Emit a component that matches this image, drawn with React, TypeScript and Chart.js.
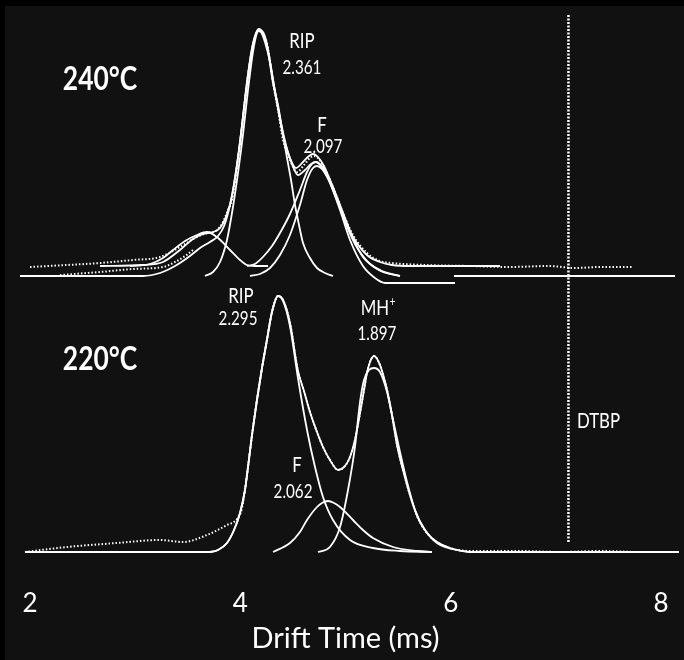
import React, { useEffect, useRef } from "react";
import { Chart, registerables } from "chart.js";

Chart.register(...registerables);

// x = drift time (ms); y = intensity (arbitrary units, bottom spectrum baseline = 0)
const TOP_OFFSET = 276; // vertical offset of the 240°C spectrum

// ---------- 240 °C spectrum ----------
const TOP_DATA_T = [2.000, 2.352, 2.666, 2.979, 3.236, 3.426, 3.588, 3.683, 3.778, 3.835, 3.883, 3.921, 3.968, 4.016, 4.063, 4.111, 4.158, 4.177, 4.206, 4.253, 4.311, 4.358, 4.406, 4.472, 4.539, 4.605, 4.662, 4.700, 4.738, 4.786, 4.881, 4.976, 5.071, 5.204, 5.328, 5.442, 5.756, 6.184, 6.555, 6.935, 7.182, 7.420, 7.724];
const TOP_DATA_Y = [9, 11, 13, 16, 19, 29, 39, 43, 46, 54, 66, 76, 109, 149, 193, 226, 244, 246, 243, 233, 193, 166, 136, 116, 104, 111, 118, 120, 118, 111, 89, 63, 41, 23, 15, 13, 11, 10, 9, 10, 8, 9, 9];

const TOP_DATA2_T = [2.285, 2.666, 2.979, 3.265, 3.379, 3.474, 3.550];
const TOP_DATA2_Y = [1, 4, 7, 9, 14, 20, 26];

const TOP_FIT_A_T = [2.666, 3.074, 3.265, 3.426, 3.550, 3.645, 3.740, 3.807, 3.873, 3.921, 3.968, 4.016, 4.063, 4.111, 4.149, 4.177, 4.215, 4.263, 4.311, 4.358, 4.406, 4.472, 4.529, 4.596, 4.653, 4.691, 4.738, 4.795, 4.881, 4.976, 5.071, 5.204, 5.328, 5.442, 5.613, 6.469];
const TOP_FIT_A_Y = [10, 11, 14, 26, 37, 42, 44, 48, 62, 80, 111, 151, 194, 228, 243, 247, 243, 226, 196, 168, 141, 118, 108, 114, 120, 122, 119, 110, 88, 61, 39, 21, 14, 11, 10, 10];

const TOP_FIT_B_T = [1.905, 3.074, 3.236, 3.379, 3.521, 3.616, 3.711, 3.788, 3.845, 3.902, 3.949, 3.997, 4.044, 4.092, 4.130, 4.168, 4.196, 4.234, 4.282, 4.330, 4.377, 4.434, 4.491, 4.548, 4.615, 4.672, 4.719, 4.767, 4.834, 4.910, 4.995, 5.090, 5.214, 5.357, 5.518];
const TOP_FIT_B_Y = [0, 0, 3, 10, 20, 28, 34, 40, 50, 71, 98, 134, 176, 214, 236, 245, 244, 234, 214, 184, 158, 131, 112, 101, 106, 112, 114, 110, 98, 78, 54, 32, 14, 4, 0];

const TOP_SMALL_T = [2.951, 3.141, 3.265, 3.360, 3.474, 3.588, 3.683, 3.788, 3.902, 3.997, 4.063, 4.139, 4.263];
const TOP_SMALL_Y = [10, 12, 18, 26, 35, 41, 44, 38, 26, 16, 11, 10, 10];

const TOP_RIP_T = [3.664, 3.740, 3.807, 3.873, 3.930, 3.978, 4.025, 4.073, 4.120, 4.158, 4.187, 4.244, 4.311, 4.358, 4.406, 4.444, 4.482, 4.520, 4.558, 4.596, 4.662, 4.729, 4.805, 4.881];
const TOP_RIP_Y = [0, 4, 14, 36, 69, 103, 141, 186, 224, 243, 246, 236, 193, 171, 141, 118, 96, 71, 51, 33, 18, 8, 3, 0];

const TOP_F1_T = [4.092, 4.187, 4.282, 4.377, 4.472, 4.567, 4.634, 4.691, 4.729, 4.776, 4.852, 4.948, 5.043, 5.166, 5.280, 5.376, 6.041];
const TOP_F1_Y = [0, 2, 8, 21, 41, 71, 96, 108, 110, 107, 93, 66, 36, 10, -2, -7, -7];

const TOP_F2_T = [4.063, 4.139, 4.215, 4.301, 4.377, 4.472, 4.567, 4.634, 4.681, 4.719, 4.767, 4.834, 4.919, 4.995, 5.062, 5.166, 5.328, 5.518];
const TOP_F2_Y = [10, 12, 19, 30, 43, 62, 86, 104, 112, 114, 111, 100, 79, 58, 40, 19, 6, 0];

const TOP_BASE_T = [6.032, 8.133];
const TOP_BASE_Y = [0, 0];

// ---------- 220 °C spectrum ----------
const BOT_DATA_T = [1.952, 2.352, 2.827, 3.236, 3.455, 3.683, 3.873, 3.968, 4.016, 4.073, 4.111, 4.158, 4.206, 4.253, 4.301, 4.358, 4.406, 4.472, 4.548, 4.605, 4.662, 4.729, 4.786, 4.852, 4.929, 4.995, 5.043, 5.090, 5.138, 5.176, 5.204, 5.233, 5.271, 5.328, 5.395, 5.442, 5.490, 5.547, 5.613, 5.689, 5.775, 5.870, 5.994, 6.184, 6.659, 7.039, 7.420, 7.800, 8.171];
const BOT_DATA_Y = [0, 5, 9, 12, 10, 17, 27, 33, 44, 85, 117, 152, 184, 212, 240, 256, 252, 229, 181, 161, 140, 120, 105, 92, 82, 86, 95, 112, 139, 162, 179, 190, 196, 187, 162, 137, 107, 82, 57, 34, 19, 10, 4, 1, 1, 0, 1, 0, 0];

const BOT_FIT_T = [1.952, 3.711, 3.788, 3.873, 3.940, 3.997, 4.044, 4.073, 4.111, 4.158, 4.206, 4.253, 4.301, 4.358, 4.406, 4.472, 4.548, 4.605, 4.662, 4.729, 4.786, 4.852, 4.929, 4.995, 5.043, 5.090, 5.138, 5.176, 5.204, 5.233, 5.271, 5.328, 5.395, 5.442, 5.490, 5.547, 5.613, 5.689, 5.775, 5.870, 5.994, 6.184, 8.171];
const BOT_FIT_Y = [0, 0, 2, 9, 22, 39, 62, 85, 117, 152, 184, 212, 240, 256, 252, 229, 181, 161, 140, 120, 105, 92, 82, 86, 95, 112, 139, 162, 179, 190, 196, 187, 162, 137, 107, 82, 57, 34, 19, 10, 4, 0, 0];

const BOT_RIP_T = [3.711, 3.788, 3.873, 3.940, 3.997, 4.044, 4.073, 4.111, 4.158, 4.206, 4.253, 4.301, 4.358, 4.406, 4.472, 4.548, 4.634, 4.710, 4.786, 4.881, 5.043, 5.261, 5.518, 5.822];
const BOT_RIP_Y = [0, 2, 9, 22, 39, 62, 85, 117, 152, 184, 212, 240, 256, 251, 226, 174, 122, 85, 55, 32, 12, 4, 1, 0];

const BOT_F_T = [4.311, 4.472, 4.567, 4.634, 4.729, 4.776, 4.834, 4.891, 4.948, 5.071, 5.166, 5.261, 5.452, 5.680, 5.822];
const BOT_F_Y = [0, 9, 20, 32, 45, 49, 51, 49, 45, 32, 22, 14, 5, 1, 0];

const BOT_MH_T = [4.738, 4.852, 4.948, 5.024, 5.090, 5.138, 5.176, 5.223, 5.271, 5.328, 5.395, 5.452, 5.518, 5.585, 5.661, 5.756, 5.870, 6.013, 6.184];
const BOT_MH_Y = [0, 5, 25, 62, 105, 150, 172, 182, 184, 180, 160, 132, 100, 70, 42, 22, 9, 3, 0];

// DTBP reference line
const DTBP_T = [7.12, 7.12];
const DTBP_Y = [10, 537];

const X_TICKS = [2, 4, 6, 8];

// text annotations (x in ms, y in intensity units of the combined plot)
const LABELS = [
  { text: "240°C", t: 2.666, v: 462, size: 33, bold: true },
  { text: "RIP", t: 4.586, v: 504, size: 21 },
  { text: "2.361", t: 4.586, v: 478, size: 19 },
  { text: "F", t: 4.776, v: 420, size: 21 },
  { text: "2.097", t: 4.786, v: 399, size: 19 },
  { text: "220°C", t: 2.666, v: 182, size: 33, bold: true },
  { text: "RIP", t: 4.006, v: 249, size: 21 },
  { text: "2.295", t: 3.978, v: 227, size: 19 },
  { text: "F", t: 4.539, v: 80, size: 21 },
  { text: "2.062", t: 4.501, v: 54, size: 19 },
  { text: "MH", sup: "+", t: 5.309, v: 237, size: 21 },
  { text: "1.897", t: 5.299, v: 212, size: 19 },
  { text: "DTBP", t: 7.201, v: 124, size: 21, align: "left" },
];

const pts = (T: number[], Y: number[], off = 0) => T.map((t, i) => ({ x: t, y: Y[i] + off }));

const solid = (data: any, width = 1.8) => ({
  data,
  borderColor: "#ffffff",
  borderWidth: width,
  pointRadius: 0,
  fill: false,
  clip: false,
  cubicInterpolationMode: "monotone",
});
const dotted = (data: any) => ({
  ...solid(data, 2),
  borderDash: [1.5, 2],
});

const bgPlugin = {
  id: "bg",
  beforeDraw(chart: any) {
    const { ctx, width, height } = chart;
    ctx.save();
    ctx.fillStyle = "#000";
    ctx.fillRect(0, 0, width, height);
    ctx.fillStyle = "#111111";
    ctx.fillRect(5, 6, width, height);
    ctx.restore();
  },
};

const labelPlugin = {
  id: "labels",
  afterDatasetsDraw(chart: any) {
    const { ctx, scales } = chart;
    ctx.save();
    ctx.fillStyle = "#ffffff";
    ctx.textBaseline = "alphabetic";
    for (const l of LABELS as any[]) {
      const x = scales.x.getPixelForValue(l.t);
      const y = scales.y.getPixelForValue(l.v);
      const sx = 0.8;
      ctx.save();
      ctx.translate(x, y);
      ctx.scale(sx, 1);
      ctx.font = `${l.bold ? "bold " : ""}${l.size}px Lato`;
      const w = ctx.measureText(l.text).width;
      let supW = 0;
      if (l.sup) {
        ctx.font = `${Math.round(l.size * 0.6)}px Lato`;
        supW = ctx.measureText(l.sup).width;
        ctx.font = `${l.bold ? "bold " : ""}${l.size}px Lato`;
      }
      const total = w + supW;
      const start = l.align === "left" ? 0 : -total / 2;
      ctx.textAlign = "left";
      ctx.fillText(l.text, start, 0);
      if (l.sup) {
        ctx.font = `${Math.round(l.size * 0.6)}px Lato`;
        ctx.fillText(l.sup, start + w + 0.5, -l.size * 0.42);
      }
      ctx.restore();
    }
    ctx.restore();
  },
};

export default function App() {
  const ref = useRef<HTMLCanvasElement | null>(null);
  useEffect(() => {
    if (!ref.current) return;
    const chart = new Chart(ref.current, {
      type: "line",
      data: {
        datasets: [
          solid(pts(TOP_BASE_T, TOP_BASE_Y, TOP_OFFSET)),
          solid(pts(TOP_SMALL_T, TOP_SMALL_Y, TOP_OFFSET)),
          solid(pts(TOP_RIP_T, TOP_RIP_Y, TOP_OFFSET)),
          solid(pts(TOP_F1_T, TOP_F1_Y, TOP_OFFSET)),
          solid(pts(TOP_F2_T, TOP_F2_Y, TOP_OFFSET)),
          solid(pts(TOP_FIT_B_T, TOP_FIT_B_Y, TOP_OFFSET)),
          solid(pts(TOP_FIT_A_T, TOP_FIT_A_Y, TOP_OFFSET)),
          dotted(pts(TOP_DATA2_T, TOP_DATA2_Y, TOP_OFFSET)),
          dotted(pts(TOP_DATA_T, TOP_DATA_Y, TOP_OFFSET)),
          solid(pts(BOT_RIP_T, BOT_RIP_Y)),
          solid(pts(BOT_F_T, BOT_F_Y)),
          solid(pts(BOT_MH_T, BOT_MH_Y)),
          solid(pts(BOT_FIT_T, BOT_FIT_Y)),
          dotted(pts(BOT_DATA_T, BOT_DATA_Y)),
          { ...solid(pts(DTBP_T, DTBP_Y), 2.5), borderDash: [2, 1.5], cubicInterpolationMode: "default", tension: 0 },
        ] as any,
      },
      options: {
        animation: false,
        responsive: false,
        maintainAspectRatio: false,
        events: [],
        layout: { padding: { left: 30, right: 23, top: 0, bottom: 7 } },
        plugins: { legend: { display: false }, tooltip: { enabled: false } },
        scales: {
          x: {
            type: "linear",
            min: 2,
            max: 8,
            afterBuildTicks: (axis: any) => {
              axis.ticks = X_TICKS.map((v) => ({ value: v }));
            },
            grid: { display: false, drawTicks: false },
            border: { display: false },
            ticks: {
              color: "#ffffff",
              padding: 3,
              font: { family: "Lato", size: 26, lineHeight: 1 },
            },
            title: {
              display: true,
              text: "Drift Time (ms)",
              color: "#ffffff",
              font: { family: "Lato", size: 29, lineHeight: 1 },
              padding: { top: 4.4, bottom: 0 },
            },
          },
          y: { display: false, min: -35.6, max: 552 },
        },
      } as any,
      plugins: [bgPlugin, labelPlugin],
    });
    return () => chart.destroy();
  }, []);
  return (
    <div style={{ position: "absolute", left: 0, top: 0, width: 684, height: 660, background: "#111" }}>
      <canvas ref={ref} width={684} height={660} style={{ display: "block", width: 684, height: 660 }} />
    </div>
  );
}
